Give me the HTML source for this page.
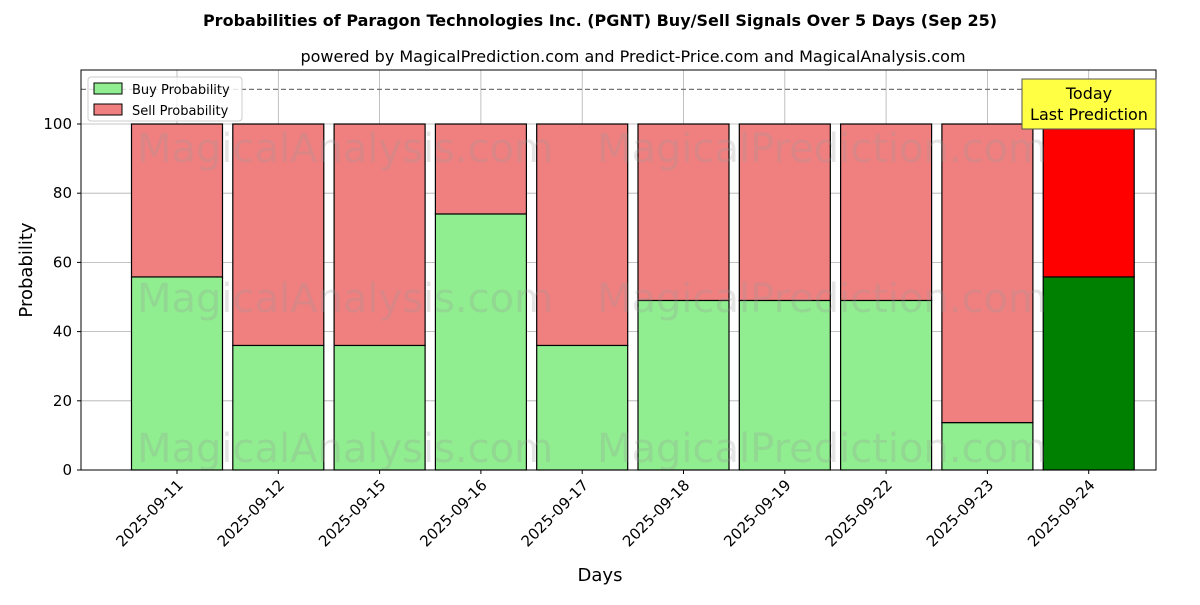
<!DOCTYPE html>
<html><head><meta charset="utf-8"><style>
body{margin:0;background:#fff}
svg text{font-family:"DejaVu Sans","Liberation Sans",sans-serif}
</style></head><body>
<svg id="c" width="1200" height="600" xmlns="http://www.w3.org/2000/svg">
<text x="600" y="26" text-anchor="middle" font-size="16" font-weight="bold">Probabilities of Paragon Technologies Inc. (PGNT) Buy/Sell Signals Over 5 Days (Sep 25)</text>
<text x="633" y="62" text-anchor="middle" font-size="16">powered by MagicalPrediction.com and Predict-Price.com and MagicalAnalysis.com</text>
<g id="grid"></g>
<g id="bars"></g>
<g id="wm" fill="#999" fill-opacity="0.25" font-size="40">
<text x="345" y="162" text-anchor="middle">MagicalAnalysis.com</text>
<text x="822" y="162" text-anchor="middle">MagicalPrediction.com</text>
<text x="345" y="312" text-anchor="middle">MagicalAnalysis.com</text>
<text x="822" y="312" text-anchor="middle">MagicalPrediction.com</text>
<text x="345" y="462" text-anchor="middle">MagicalAnalysis.com</text>
<text x="822" y="462" text-anchor="middle">MagicalPrediction.com</text>
</g>
<g id="axes"></g>
<rect x="81" y="70" width="1075" height="400" fill="none" stroke="#000" stroke-width="1"/>
<g>
<rect x="88" y="77" width="154" height="44" fill="#fff" fill-opacity="0.8" stroke="#ccc" rx="3"/>
<rect x="94" y="83" width="28" height="11" fill="#90ee90" stroke="#000"/>
<text x="132" y="94" font-size="13">Buy Probability</text>
<rect x="94" y="104" width="28" height="11" fill="#f08080" stroke="#000"/>
<text x="132" y="115" font-size="13">Sell Probability</text>
</g>
<g>
<rect x="1022" y="79" width="134" height="50" fill="#ffff44" stroke="#555"/>
<text x="1089" y="99" text-anchor="middle" font-size="16">Today</text>
<text x="1089" y="120" text-anchor="middle" font-size="16">Last Prediction</text>
</g>
<text x="600" y="581" text-anchor="middle" font-size="18">Days</text>
<text transform="translate(32,270) rotate(-90)" text-anchor="middle" font-size="18">Probability</text>
</svg>
<script>
const categories=["2025-09-11","2025-09-12","2025-09-15","2025-09-16","2025-09-17","2025-09-18","2025-09-19","2025-09-22","2025-09-23","2025-09-24"];
const buyValues=[55.8,36,36,74,36,49,49,49,13.7,55.8];
const sellValues=[44.2,64,64,26,64,51,51,51,86.3,44.2];
const yTicks=[0,20,40,60,80,100];
const refLine=110;
const NS="http://www.w3.org/2000/svg";
const y=v=>470-v*3.46;
const x=i=>177+101.3*i;
const bw=91;
function mk(tag,attrs,parent,txt){const e=document.createElementNS(NS,tag);for(const k in attrs)e.setAttribute(k,attrs[k]);if(txt!==undefined)e.textContent=txt;document.getElementById(parent).appendChild(e);return e;}
yTicks.forEach(t=>{
 let l=mk('line',{x1:81,x2:1156,y1:y(t),y2:y(t),stroke:'#b0b0b0','stroke-width':0.8},'grid');
 
 
 mk('line',{x1:77,x2:81,y1:y(t),y2:y(t),stroke:'#000'},'axes');
 let tx=mk('text',{x:72,y:y(t)+5,'text-anchor':'end','font-size':15},'axes',t);
 
 
});
categories.forEach((c,i)=>{
 let l=mk('line',{x1:x(i),x2:x(i),y1:70,y2:470,stroke:'#b0b0b0','stroke-width':0.8},'grid');
 
 
 mk('line',{x1:x(i),x2:x(i),y1:470,y2:474,stroke:'#000'},'axes');
 let tx=mk('text',{transform:`translate(${x(i)+7},${486}) rotate(-45)`,'text-anchor':'end','font-size':15},'axes',c);
 
 
 const last=i===categories.length-1;
 let b=mk('rect',{x:x(i)-bw/2,y:y(buyValues[i]),width:bw,height:y(0)-y(buyValues[i]),fill:last?'#008000':'#90ee90',stroke:'#000','stroke-width':1.2},'bars');
 
 
 let s=mk('rect',{x:x(i)-bw/2,y:y(buyValues[i]+sellValues[i]),width:bw,height:y(buyValues[i])-y(buyValues[i]+sellValues[i]),fill:last?'#ff0000':'#f08080',stroke:'#000','stroke-width':1.2},'bars');
 
 
});
let rl=mk('line',{x1:81,x2:1156,y1:y(refLine),y2:y(refLine),stroke:'#777','stroke-width':1.2,'stroke-dasharray':'5,3'},'axes');


</script>
</body></html>
